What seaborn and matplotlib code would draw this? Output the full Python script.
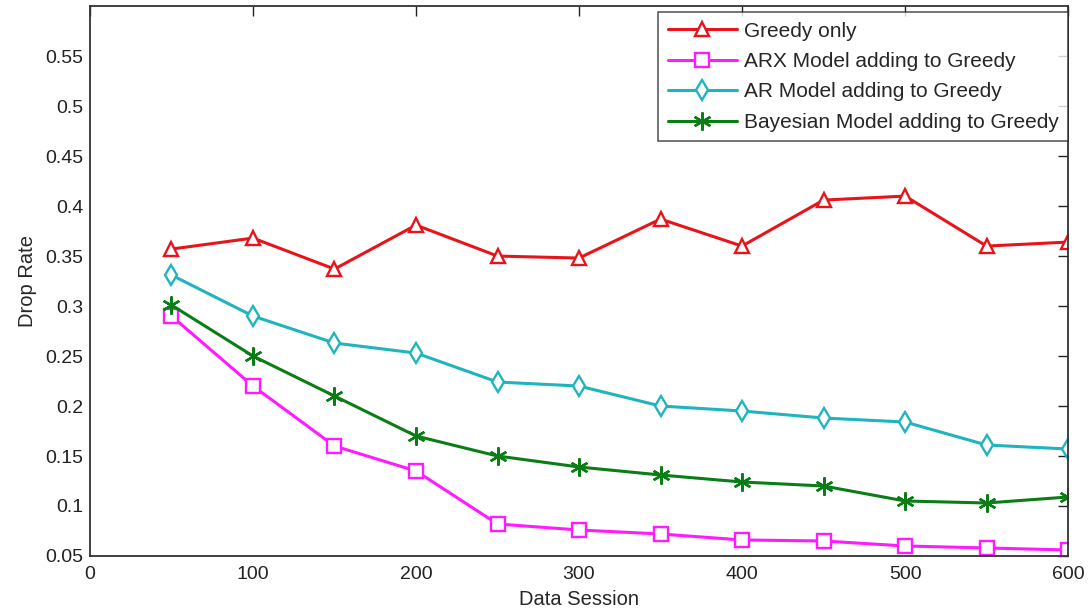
import pandas as pd
import matplotlib.pyplot as plt
import seaborn as sns

sessions = [50, 100, 150, 200, 250, 300, 350, 400, 450, 500, 550, 600]
greedy = [0.357, 0.368, 0.337, 0.381, 0.350, 0.348, 0.387, 0.360, 0.406, 0.410, 0.360, 0.364]
arx = [0.290, 0.220, 0.160, 0.135, 0.082, 0.076, 0.072, 0.066, 0.065, 0.060, 0.058, 0.056]
ar = [0.331, 0.290, 0.263, 0.253, 0.224, 0.220, 0.200, 0.195, 0.188, 0.184, 0.161, 0.157]
bayes = [0.301, 0.250, 0.210, 0.170, 0.150, 0.139, 0.131, 0.124, 0.120, 0.105, 0.103, 0.109]

labels = ["Greedy only", "ARX Model adding to Greedy",
          "AR Model adding to Greedy", "Bayesian Model adding to Greedy"]
colors = ["#e8141a", "#ff1aff", "#20b4be", "#0b7d16"]
markers = ["^", "s", "d", (6, 2, 0)]
msizes = [10, 10, 10, 13]

sns.set_style("white")
plt.rcParams["font.family"] = ["Liberation Sans", "DejaVu Sans"]

fig = plt.figure(figsize=(10.89, 6.14), dpi=100)
ax = fig.add_axes([0.0826, 0.0945, 0.8982, 0.8955])

for vals, lab, col, mk, ms in zip([greedy, arx, ar, bayes], labels, colors, markers, msizes):
    df = pd.DataFrame({"Data Session": sessions, "Drop Rate": vals})
    face = col if mk == (6, 2, 0) else "white"
    sns.lineplot(data=df, x="Data Session", y="Drop Rate", ax=ax, color=col,
                 linewidth=2.2, marker=mk, markersize=ms,
                 markerfacecolor=face, markeredgecolor=col, markeredgewidth=1.7,
                 label=lab)

ax.set_xlim(0, 600)
ax.set_ylim(0.05, 0.6)
ax.set_xticks([0, 100, 200, 300, 400, 500, 600])
ax.set_yticks([0.05, 0.1, 0.15, 0.2, 0.25, 0.3, 0.35, 0.4, 0.45, 0.5, 0.55])
ax.set_yticklabels(["0.05", "0.1", "0.15", "0.2", "0.25", "0.3", "0.35",
                    "0.4", "0.45", "0.5", "0.55"])
ax.tick_params(direction="in", top=True, right=True, length=7, width=1,
               labelsize=14, colors="#222222")
ax.tick_params(axis="x", pad=7)
ax.tick_params(axis="y", pad=5)
for s in ax.spines.values():
    s.set_linewidth(1.3)
    s.set_color("#333333")
ax.set_xlabel("Data Session", fontsize=14.5, labelpad=5)
ax.set_ylabel("Drop Rate", fontsize=14.5, labelpad=6)

leg = ax.legend(loc="upper right", fontsize=15, frameon=True, fancybox=False,
                edgecolor="#222222", handlelength=3.3, handletextpad=0.35,
                borderpad=0.45, labelspacing=0.55, borderaxespad=0,
                bbox_to_anchor=(1.0, 0.989))
leg.get_frame().set_linewidth(1.1)

fig.savefig("out.png", dpi=100)
